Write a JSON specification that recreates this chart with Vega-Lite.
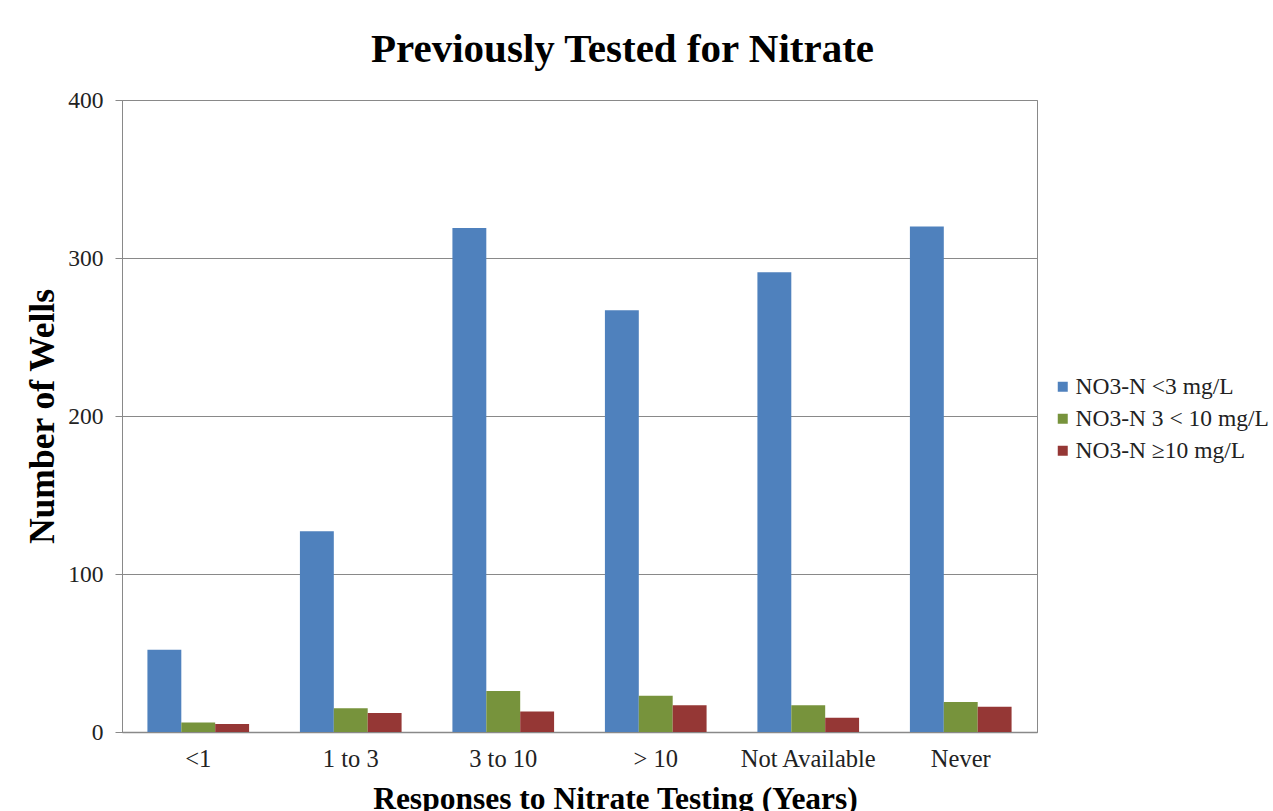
{
  "$schema": "https://vega.github.io/schema/vega-lite/v6.json",
  "width": 915,
  "height": 632,
  "autosize": {"type": "none"},
  "padding": {"left": 122, "top": 100, "right": 236, "bottom": 79},
  "background": "white",
  "title": {
    "text": "Previously Tested for Nitrate",
    "font": "Liberation Serif",
    "fontSize": 41,
    "fontWeight": "bold",
    "color": "black",
    "anchor": "middle",
    "frame": "group",
    "baseline": "bottom",
    "offset": 29,
    "dx": 43,
    "dy": 53
  },
  "data": {
    "values": [
      {"cat": "<1", "series": "NO3-N <3 mg/L", "value": 52},
      {"cat": "<1", "series": "NO3-N 3 < 10 mg/L", "value": 6},
      {"cat": "<1", "series": "NO3-N ≥10 mg/L", "value": 5},
      {"cat": "1 to 3", "series": "NO3-N <3 mg/L", "value": 127},
      {"cat": "1 to 3", "series": "NO3-N 3 < 10 mg/L", "value": 15},
      {"cat": "1 to 3", "series": "NO3-N ≥10 mg/L", "value": 12},
      {"cat": "3 to 10", "series": "NO3-N <3 mg/L", "value": 319},
      {"cat": "3 to 10", "series": "NO3-N 3 < 10 mg/L", "value": 26},
      {"cat": "3 to 10", "series": "NO3-N ≥10 mg/L", "value": 13},
      {"cat": "> 10", "series": "NO3-N <3 mg/L", "value": 267},
      {"cat": "> 10", "series": "NO3-N 3 < 10 mg/L", "value": 23},
      {"cat": "> 10", "series": "NO3-N ≥10 mg/L", "value": 17},
      {"cat": "Not Available", "series": "NO3-N <3 mg/L", "value": 291},
      {"cat": "Not Available", "series": "NO3-N 3 < 10 mg/L", "value": 17},
      {"cat": "Not Available", "series": "NO3-N ≥10 mg/L", "value": 9},
      {"cat": "Never", "series": "NO3-N <3 mg/L", "value": 320},
      {"cat": "Never", "series": "NO3-N 3 < 10 mg/L", "value": 19},
      {"cat": "Never", "series": "NO3-N ≥10 mg/L", "value": 16}
    ]
  },
  "mark": {"type": "bar"},
  "encoding": {
    "x": {
      "field": "cat",
      "type": "nominal",
      "sort": ["<1", "1 to 3", "3 to 10", "> 10", "Not Available", "Never"],
      "scale": {"paddingInner": 0.3333, "paddingOuter": 0.1667},
      "axis": {
        "title": "Responses to Nitrate Testing (Years)",
        "titleFont": "Liberation Serif",
        "titleFontSize": 31.5,
        "titleFontWeight": "bold",
        "titleColor": "black",
        "titleX": 493,
        "titleY": 76,
        "titleBaseline": "alphabetic",
        "titleAnchor": "middle",
        "labelFont": "Liberation Serif",
        "labelFontSize": 24.5,
        "labelColor": "#222222",
        "labelAngle": 0,
        "labelPadding": 15,
        "ticks": false,
        "domainColor": "#898989",
        "domainWidth": 1.5,
        "grid": false
      }
    },
    "xOffset": {
      "field": "series",
      "type": "nominal",
      "sort": ["NO3-N <3 mg/L", "NO3-N 3 < 10 mg/L", "NO3-N ≥10 mg/L"],
      "scale": {"paddingInner": 0, "paddingOuter": 0}
    },
    "y": {
      "field": "value",
      "type": "quantitative",
      "scale": {"domain": [0, 400]},
      "axis": {
        "values": [0, 100, 200, 300, 400],
        "title": "Number of Wells",
        "titleFont": "Liberation Serif",
        "titleFontSize": 35.5,
        "titleFontWeight": "bold",
        "titleColor": "black",
        "titleX": -69,
        "titleY": 316,
        "titleAngle": -90,
        "titleBaseline": "alphabetic",
        "titleAnchor": "middle",
        "labelFont": "Liberation Serif",
        "labelFontSize": 23.5,
        "labelColor": "#222222",
        "labelPadding": 12,
        "tickSize": 7,
        "tickColor": "#898989",
        "domainColor": "#898989",
        "gridColor": "#898989",
        "gridWidth": 1
      }
    },
    "color": {
      "field": "series",
      "type": "nominal",
      "sort": ["NO3-N <3 mg/L", "NO3-N 3 < 10 mg/L", "NO3-N ≥10 mg/L"],
      "scale": {
        "domain": ["NO3-N <3 mg/L", "NO3-N 3 < 10 mg/L", "NO3-N ≥10 mg/L"],
        "range": ["#4F81BD", "#77933C", "#953735"]
      },
      "legend": {
        "title": null,
        "orient": "none",
        "legendX": 929,
        "legendY": 275,
        "labelFont": "Liberation Serif",
        "labelFontSize": 23.5,
        "labelColor": "#222222",
        "labelLimit": 400,
        "symbolType": "square",
        "symbolSize": 100,
        "symbolStrokeWidth": 0,
        "labelOffset": 1,
        "rowPadding": 7
      }
    }
  },
  "config": {
    "view": {"stroke": "#898989", "strokeWidth": 1}
  }
}
